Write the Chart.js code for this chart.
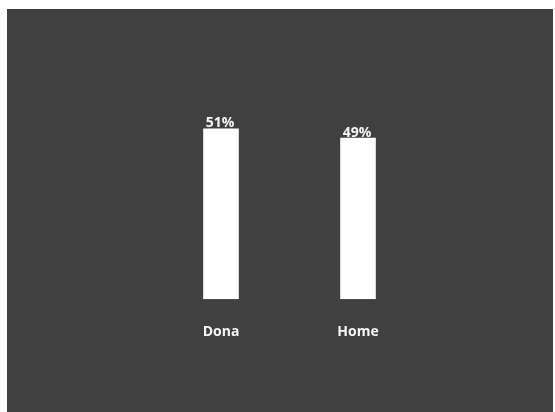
<!DOCTYPE html>
<html>
<head>
<meta charset="utf-8">
<script src="https://cdn.jsdelivr.net/npm/chart.js@4/dist/chart.umd.min.js"></script>
<style>
  html, body { margin: 0; padding: 0; background: #ffffff; }
  #wrap { position: absolute; left: 7px; top: 9px; width: 546px; height: 403px; background: #404040; }
</style>
</head>
<body>
<div id="wrap"><canvas id="chart" width="546" height="403"></canvas></div>
<script>
// chart data
const categories = ['Dona', 'Home'];
const shares = [51.4, 48.6];
const shareLabels = ['51%', '49%'];

// draws the percent text over each bar
const topLabels = {
    id: 'topLabels',
    afterDatasetsDraw(chart) {
        const ctx = chart.ctx;
        const meta = chart.getDatasetMeta(0);
        ctx.save();
        ctx.fillStyle = '#f5f5f5';
        ctx.font = 'bold 14px "Open Sans", sans-serif';
        ctx.textAlign = 'center';
        ctx.textBaseline = 'bottom';
        meta.data.forEach((bar, i) => {
            ctx.fillText(shareLabels[i], bar.x - 1, bar.y + 2);
        });
        ctx.restore();
    }
};

new Chart(document.getElementById('chart').getContext('2d'), {
    type: 'bar',
    data: {
        labels: categories,
        datasets: [{
            data: shares,
            backgroundColor: '#ffffff',
            borderWidth: 0,
            barPercentage: 0.26,
            categoryPercentage: 1,
        }],
    },
    options: {
        responsive: false,
        animation: false,
        layout: { padding: { left: 145.5, right: 126.5, top: 24.4, bottom: 48 } },
        plugins: { legend: { display: false }, tooltip: { enabled: false } },
        scales: {
            x: {
                grid: { display: false, drawTicks: false },
                border: { display: false },
                ticks: { color: '#f5f5f5', padding: 24, font: { family: 'Open Sans', size: 14, weight: 'bold' } },
            },
            y: { display: false, min: 0, max: 80 },
        },
    },
    plugins: [topLabels],
});
</script>
</body>
</html>
